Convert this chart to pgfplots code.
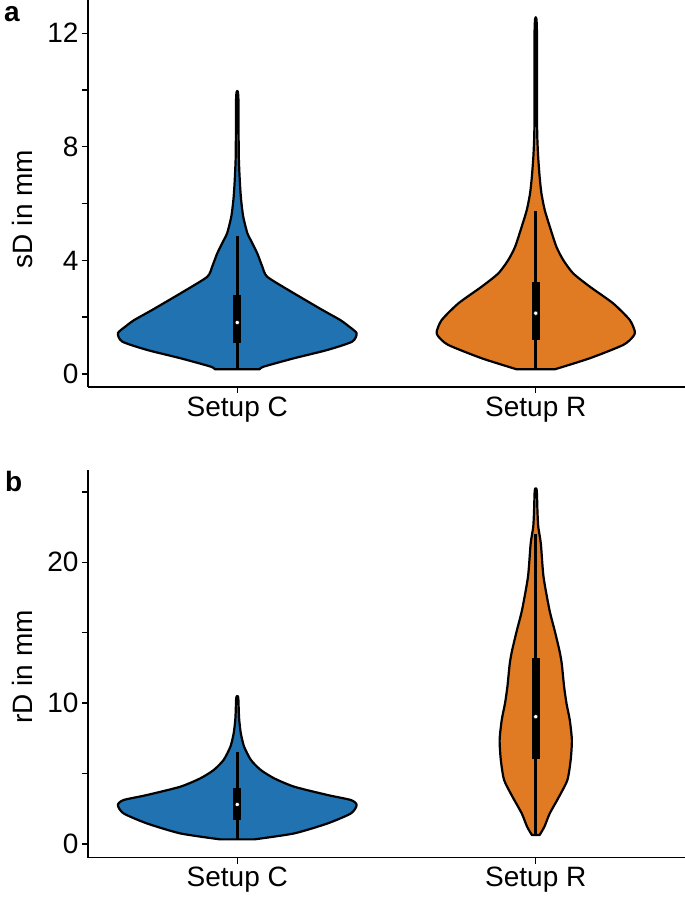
\documentclass[border=0pt]{standalone}
\usepackage{fontspec}
\setmainfont{Liberation Sans}
\usepackage{pgfplots}
\pgfplotsset{compat=1.18}
\usepackage{pgfplotstable}
\definecolor{vblue}{RGB}{32,114,176}
\definecolor{vorange}{RGB}{224,123,36}

% violin outlines: y value and signed offset from the centre (x units)
\pgfplotstableread{
y d
0.164 0.075
0.258 0.089
0.552 0.190
0.845 0.302
1.138 0.385
1.432 0.400
1.667 0.375
1.900 0.345
2.254 0.285
2.958 0.171
3.427 0.100
3.779 0.084
4.249 0.067
4.718 0.045
4.953 0.034
5.540 0.020
6.127 0.013
6.714 0.009
7.535 0.0055
8.474 0.0045
9.648 0.004
9.941 0.002
9.941 -0.002
9.648 -0.004
8.474 -0.0045
7.535 -0.0055
6.714 -0.009
6.127 -0.013
5.540 -0.020
4.953 -0.034
4.718 -0.045
4.249 -0.067
3.779 -0.084
3.427 -0.100
2.958 -0.171
2.254 -0.285
1.900 -0.345
1.667 -0.375
1.432 -0.400
1.138 -0.385
0.845 -0.302
0.552 -0.190
0.258 -0.089
0.164 -0.075
}\topC
\pgfplotstableread{
y d
0.164 0.064
0.552 0.181
1.021 0.293
1.315 0.326
1.491 0.332
1.901 0.315
2.488 0.259
3.075 0.181
3.545 0.125
4.014 0.092
4.484 0.069
5.188 0.047
5.775 0.030
6.362 0.019
6.948 0.013
7.653 0.008
8.239 0.0055
8.709 0.0045
9.648 0.004
12.0 0.004
12.52 0.002
12.52 -0.002
12.0 -0.004
9.648 -0.004
8.709 -0.0045
8.239 -0.0055
7.653 -0.008
6.948 -0.013
6.362 -0.019
5.775 -0.030
5.188 -0.047
4.484 -0.069
4.014 -0.092
3.545 -0.125
3.075 -0.181
2.488 -0.259
1.901 -0.315
1.491 -0.332
1.315 -0.326
1.021 -0.293
0.552 -0.181
0.164 -0.064
}\topR
\pgfplotstableread{
y d
0.331 0.057
0.757 0.191
1.467 0.303
2.177 0.381
2.768 0.400
3.123 0.381
3.478 0.303
4.069 0.191
4.661 0.124
5.252 0.079
5.962 0.046
6.908 0.023
7.854 0.012
8.801 0.0067
9.510 0.005
10.22 0.004
10.50 0.002
10.50 -0.002
10.22 -0.004
9.510 -0.005
8.801 -0.0067
7.854 -0.012
6.908 -0.023
5.962 -0.046
5.252 -0.079
4.661 -0.124
4.069 -0.191
3.478 -0.303
3.123 -0.381
2.768 -0.400
2.177 -0.381
1.467 -0.303
0.757 -0.191
0.331 -0.057
}\botC
\pgfplotstableread{
y d
0.639 0.0128
1.230 0.029
2.177 0.047
3.359 0.078
4.542 0.106
5.962 0.117
7.381 0.121
8.801 0.114
9.984 0.103
11.166 0.095
12.822 0.087
13.769 0.079
15.188 0.063
16.608 0.046
18.973 0.026
21.339 0.017
22.522 0.0084
23.705 0.0056
24.888 0.004
25.242 0.002
25.242 -0.002
24.888 -0.004
23.705 -0.0056
22.522 -0.0084
21.339 -0.017
18.973 -0.026
16.608 -0.046
15.188 -0.063
13.769 -0.079
12.822 -0.087
11.166 -0.095
9.984 -0.103
8.801 -0.114
7.381 -0.121
5.962 -0.117
4.542 -0.106
3.359 -0.078
2.177 -0.047
1.230 -0.029
0.639 -0.0128
}\botR

\pgfplotsset{
  violinaxis/.style={
    scale only axis, width=597pt,
    xmin=0.5, xmax=2.5,
    axis x line*=bottom, axis y line*=left,
    axis line style={line width=1.4pt, black, -},
    tick align=outside, major tick length=6pt,
    tick style={line width=1.4pt, black},
    xtick={1,2}, xticklabels={Setup C, Setup R},
    tick label style={font=\fontsize{28}{32}\selectfont},
  },
  violin/.style={fill=#1, draw=black, line width=2.2pt, line join=round, smooth, tension=0.4},
  whisk/.style={black, line width=2.6pt},
  boxq/.style={black, line width=8pt},
  med/.style={only marks, mark=*, mark size=2.1pt, mark options={fill=white, draw=none}},
}

\begin{document}
\begin{tikzpicture}
\useasboundingbox (0pt,0pt) rectangle (685pt,-897pt);

\begin{axis}[violinaxis, at={(88pt,-387pt)}, anchor=south west, height=387pt,
  ymin=-0.46, ymax=13.17, ytick={0,2,4,6,8,10,12}, yticklabels={0,,4,,8,,12}]
  \addplot[violin=vblue] table[x expr={1+\thisrow{d}}, y=y]{\topC} -- cycle;
  \addplot[violin=vorange] table[x expr={2+\thisrow{d}}, y=y]{\topR} -- cycle;
  \addplot[whisk] coordinates {(1,0.164) (1,4.86)};
  \addplot[whisk] coordinates {(2,0.164) (2,5.74)};
  \addplot[boxq] coordinates {(1,1.08) (1,2.78)};
  \addplot[boxq] coordinates {(2,1.20) (2,3.25)};
  \addplot[med] coordinates {(1,1.81) (2,2.14)};
\end{axis}

\begin{axis}[violinaxis, at={(88pt,-857.7pt)}, anchor=south west, height=387.7pt,
  ymin=-0.97, ymax=26.55, ytick={0,5,10,15,20,25}, yticklabels={0,,10,,20,}]
  \addplot[violin=vblue] table[x expr={1+\thisrow{d}}, y=y]{\botC} -- cycle;
  \addplot[violin=vorange] table[x expr={2+\thisrow{d}}, y=y]{\botR} -- cycle;
  \addplot[whisk] coordinates {(1,0.331) (1,6.51)};
  \addplot[whisk] coordinates {(2,0.639) (2,22.0)};
  \addplot[boxq] coordinates {(1,1.70) (1,3.95)};
  \addplot[boxq] coordinates {(2,6.01) (2,13.18)};
  \addplot[med] coordinates {(1,2.81) (2,9.04)};
\end{axis}

\node[rotate=90, anchor=base, inner sep=0pt, font=\fontsize{28}{32}\selectfont] at (32pt,-209pt) {sD in mm};
\node[rotate=90, anchor=base, inner sep=0pt, font=\fontsize{28}{32}\selectfont] at (32pt,-667pt) {rD in mm};
\node[anchor=base west, inner sep=0pt, font=\fontsize{28}{32}\selectfont\bfseries] at (4pt,-21pt) {a};
\node[anchor=base west, inner sep=0pt, font=\fontsize{28}{32}\selectfont\bfseries] at (5pt,-491pt) {b};
\end{tikzpicture}
\end{document}
